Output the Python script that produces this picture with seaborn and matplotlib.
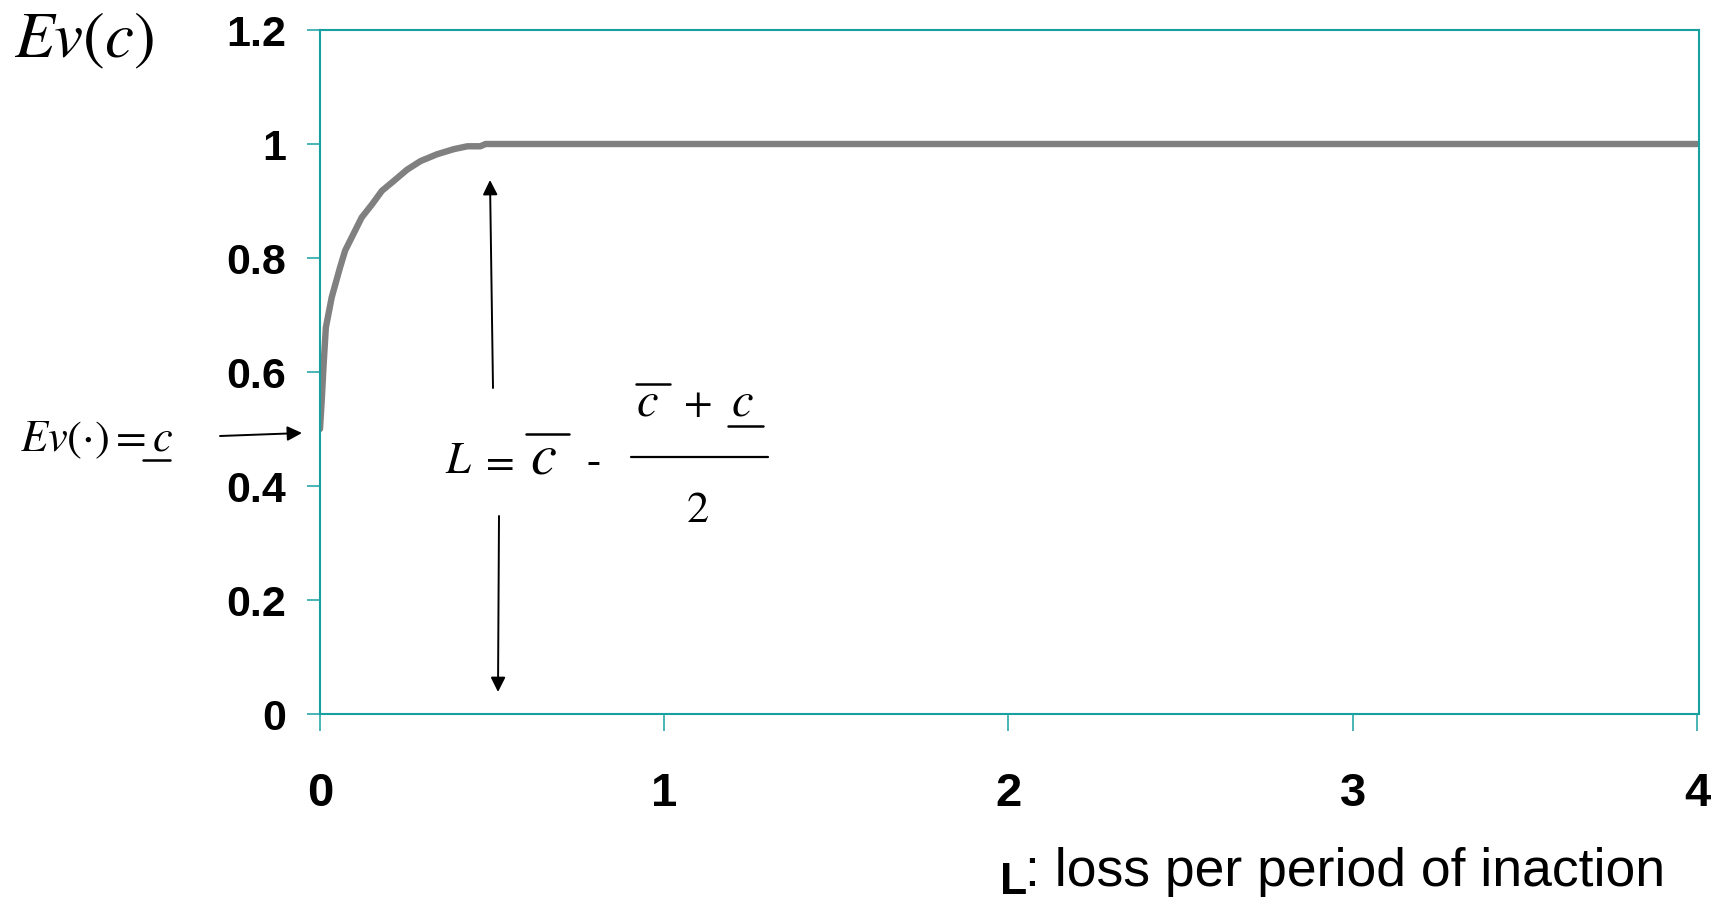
import matplotlib
matplotlib.use("Agg")
import matplotlib.pyplot as plt
from matplotlib.lines import Line2D
import pandas as pd
import seaborn as sns

# Expected value Ev(c) against the loss per period of inaction L
loss = [0.0, 0.005, 0.01, 0.017, 0.034, 0.058, 0.073, 0.097, 0.121, 0.151,
        0.18, 0.214, 0.253, 0.292, 0.34, 0.389, 0.428, 0.466, 0.481, 4.0]
ev = [0.5, 0.55, 0.608, 0.678, 0.731, 0.783, 0.813, 0.842, 0.871, 0.894,
      0.918, 0.935, 0.955, 0.970, 0.982, 0.991, 0.996, 0.996, 1.0, 1.0]

x_ticks = [0, 1, 2, 3, 4]
x_labels = ["0", "1", "2", "3", "4"]
y_ticks = [0, 0.2, 0.4, 0.6, 0.8, 1.0, 1.2]
y_labels = ["0", "0.2", "0.4", "0.6", "0.8", "1", "1.2"]

TEAL = "#17a0a0"
W, H = 1713, 902

sns.set_style("white")
plt.rcParams["font.family"] = ["Liberation Sans", "DejaVu Sans"]
plt.rcParams["mathtext.fontset"] = "stix"
plt.rcParams["text.color"] = "black"
plt.rcParams["xtick.labelcolor"] = "black"
plt.rcParams["ytick.labelcolor"] = "black"

fig = plt.figure(figsize=(W / 100, H / 100), dpi=100)
ax = fig.add_axes([320 / W, 1 - 714 / H, (1699 - 320) / W, (714 - 30) / H])

df = pd.DataFrame({"L": loss, "Ev": ev})
sns.lineplot(data=df, x="L", y="Ev", ax=ax, color="#808080", linewidth=4.6,
             sort=False, estimator=None)

ax.set_xlim(0, 4.006)
ax.set_ylim(0, 1.2)
ax.set_xticks(x_ticks)
ax.set_xticklabels(x_labels, fontsize=34, fontweight="bold", color="black")
ax.set_yticks(y_ticks)
ax.set_yticklabels(y_labels, fontsize=31, fontweight="bold", color="black")
ax.set_xlabel("")
ax.set_ylabel("")
for s in ax.spines.values():
    s.set_visible(True)
    s.set_color(TEAL)
    s.set_linewidth(1.5)
ax.tick_params(axis="x", direction="out", length=12, width=1.1, color=TEAL,
               pad=30, bottom=True)
ax.tick_params(axis="y", direction="out", length=9.4, width=1.1, color=TEAL,
               pad=15, left=True)
ax.grid(False)


def fx(x):
    return x / W


def fy(y):
    return 1 - y / H


def hline(x0, x1, y, lw=1.4):
    fig.add_artist(Line2D([fx(x0), fx(x1)], [fy(y), fy(y)],
                          transform=fig.transFigure, color="black", lw=lw))


def arrow(x0, y0, x1, y1):
    ax.annotate("", xy=(x1, H - y1), xycoords="figure pixels",
                xytext=(x0, H - y0), textcoords="figure pixels",
                arrowprops=dict(arrowstyle="-|>", color="black", lw=1.4,
                                mutation_scale=22, shrinkA=0, shrinkB=0))


# axis label on the vertical axis
fig.text(fx(14), fy(57), r"$Ev(c)$", fontsize=47, va="baseline", ha="left")

# starting level marker
fig.text(fx(20), fy(451), r"$Ev(\cdot)=c$", fontsize=32, va="baseline", ha="left")
hline(143, 170, 460, lw=1.8)
arrow(220, 436, 302, 433)

# loss formula
fs = 30
fig.text(fx(445), fy(473), r"$L$", fontsize=fs + 2, va="baseline")
fig.text(fx(479), fy(473), r"$=$", fontsize=fs, va="baseline")
fig.text(fx(530), fy(473), r"$c$", fontsize=42, va="baseline")
hline(526, 569, 434, lw=1.8)
fig.text(fx(587), fy(473), "-", fontsize=fs, va="baseline",
         family=["Liberation Serif", "DejaVu Serif"])
hline(631, 768, 457, lw=1.6)
fig.text(fx(636), fy(415), r"$c$", fontsize=35, va="baseline")
hline(636, 670, 384, lw=1.8)
fig.text(fx(683), fy(415), r"$+$", fontsize=fs, va="baseline")
fig.text(fx(731), fy(415), r"$c$", fontsize=35, va="baseline")
hline(728, 763, 426, lw=1.8)
fig.text(fx(686), fy(522), r"$\mathrm{2}$", fontsize=fs + 2, va="baseline")

arrow(493, 388, 490, 180)
arrow(499, 516, 498, 692)

# horizontal axis caption
fig.text(fx(1000), fy(894), "L", fontsize=32, fontweight="bold", va="baseline")
fig.text(fx(1025), fy(886), ": loss per period of inaction", fontsize=38.5,
         va="baseline")

fig.savefig("out.png", dpi=100, facecolor="white")
